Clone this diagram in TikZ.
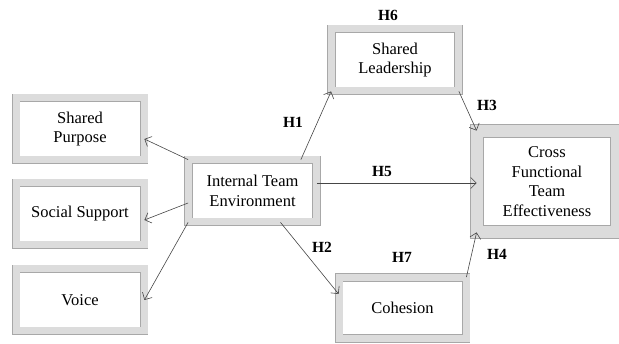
\documentclass[tikz,border=0pt]{standalone}
\usepackage{fontspec}
\setmainfont{LiberationSerif}[Extension = .ttf, UprightFont = *-Regular,
    BoldFont = *-Bold, ItalicFont = *-Italic, BoldItalicFont = *-BoldItalic]
\usetikzlibrary{arrows.meta}
\definecolor{framefill}{RGB}{220,220,220}
\definecolor{frameline}{RGB}{168,168,168}
\definecolor{arrowcol}{RGB}{70,70,70}
\begin{document}
\begin{tikzpicture}[x = 1pt, y = -1pt,
        construct/.style = {draw = frameline, line width = 0.8pt, double = framefill,
            double distance = 7pt, fill = white, align = center, inner sep = 2pt,
            minimum width = 128pt, minimum height = 62pt,
            font = \fontsize{16.5}{19.5}\selectfont},
        hyp/.style = {font = \fontsize{15.5}{18}\selectfont\bfseries, inner sep = 0pt},
        arr/.style = {draw = arrowcol, line width = 0.6pt,
            -{Straight Barb[length = 5.5pt, width = 11pt]}}]
        \useasboundingbox (0, 0) rectangle (619, 344);
        \node[construct] (sp) at (80, 129) {Shared\\Purpose};
        \node[construct] (ss) at (80, 214) {Social Support};
        \node[construct] (vo) at (80, 300) {Voice};
        \node[construct] (ite) at (252.5, 191) {Internal Team\\Environment};
        \node[construct, minimum width = 127pt] (sl) at (395, 60) {Shared\\Leadership};
        \node[construct, minimum width = 127pt, minimum height = 61pt] (co) at (402.5, 308) {Cohesion};
        \node[construct, double distance = 12.5pt, minimum width = 140pt, minimum height = 101pt] (cf) at (547, 181.5) {Cross\\Functional\\Team\\Effectiveness};
        \node[hyp] (h1) at (293, 122) {H1};
        \node[hyp] (h2) at (322, 247) {H2};
        \node[hyp] (h3) at (487, 105) {H3};
        \node[hyp] (h4) at (497, 254) {H4};
        \node[hyp] (h5) at (382, 172) {H5};
        \node[hyp] (h6) at (388, 15) {H6};
        \node[hyp] (h7) at (402, 257) {H7};
        \draw[arr] (ite.north west) -- ([yshift = -10pt]sp.east);
        \draw[arr] ([yshift = -12pt]ite.west) -- ([yshift = -6pt]ss.east);
        \draw[arr] (ite.south west) -- (vo.east);
        \draw[arr] ([xshift = -16pt]ite.north east) -- (sl.south west);
        \draw[arr] ([yshift = 8pt]ite.east) -- ([yshift = -1.5pt]cf.west);
        \draw[arr] ([xshift = 28pt]ite.south) -- ([yshift = 14pt]co.west);
        \draw[arr] (sl.south east) -- (cf.north west);
        \draw[arr] (co.north east) -- (cf.south west);
    \end{tikzpicture}
\end{document}
